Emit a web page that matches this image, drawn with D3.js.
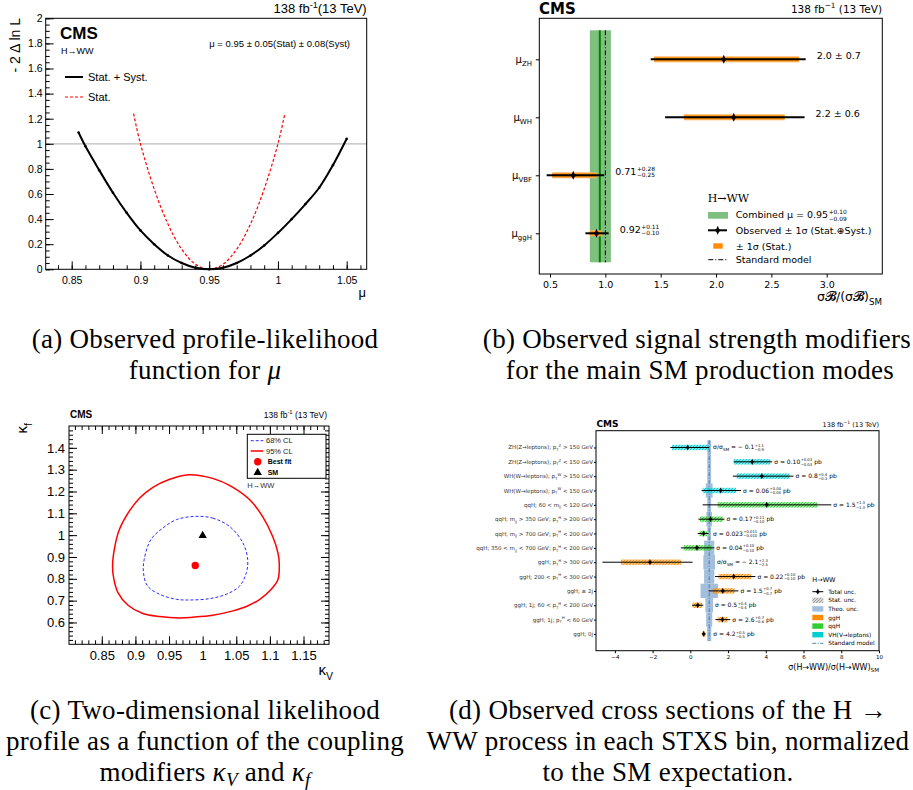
<!DOCTYPE html>
<html lang="en">
<head>
<meta charset="utf-8">
<title>H to WW results</title>
<script src="https://cdn.jsdelivr.net/npm/d3@7"></script>
<style>
body{margin:0;background:#fff;}
text{font-family:"Liberation Sans",Arial,sans-serif;}
.mpl text{font-family:"DejaVu Sans",sans-serif;}
.cap text{font-family:"Liberation Serif",serif;}
</style>
</head>
<body>
<script>
// ---- (a) likelihood scan of mu
var scanMu    = [0.855,0.86,0.87,0.88,0.89,0.90,0.91,0.92,0.93,0.94,0.95,0.96,0.97,0.98,0.99,1.00,1.01,1.02,1.03,1.04,1.05];
var scanTotal = [1.09,0.98,0.79,0.61,0.45,0.31,0.20,0.11,0.05,0.012,0.0,0.012,0.05,0.11,0.19,0.29,0.40,0.52,0.65,0.83,1.04];
var statMu    = [0.895,0.90,0.91,0.92,0.93,0.94,0.95,0.96,0.97,0.98,0.99,1.00,1.005];
var statScan  = [1.24,1.0,0.64,0.36,0.16,0.04,0.0,0.04,0.16,0.36,0.64,1.0,1.24];
var muTicksA  = [0.85,0.9,0.95,1,1.05];
var nllTicksA = [0,0.2,0.4,0.6,0.8,1,1.2,1.4,1.6,1.8,2];

// ---- (b) signal strength per production mode
var modesB   = ["ZH","WH","VBF","ggH"];
var muB      = [2.07,2.16,0.71,0.92];
var statLoB  = [1.44,1.71,0.52,0.86];
var statHiB  = [2.75,2.62,0.92,0.965];
var totLoB   = [1.41,1.54,0.47,0.82];
var totHiB   = [2.81,2.80,0.99,1.03];
var labMainB = ["2.0 ± 0.7","2.2 ± 0.6","0.71","0.92"];
var labUpB   = ["","","+0.28","+0.11"];
var labDnB   = ["","","−0.25","−0.10"];
var combMu = 0.95, combLo = 0.86, combHi = 1.05;
var xTicksB  = [0.5,1.0,1.5,2.0,2.5,3.0];

// ---- (c) kappa_V vs kappa_f contours
var kV95 = [0.979,1.015,1.045,1.070,1.089,1.104,1.112,1.114,1.112,1.102,1.085,1.065,1.045,1.015,0.985,0.966,0.936,0.911,0.889,0.874,0.868,0.866,0.869,0.876,0.889,0.906,0.926,0.951];
var kf95 = [1.277,1.260,1.219,1.162,1.086,0.995,0.919,0.866,0.797,0.752,0.706,0.673,0.653,0.633,0.624,0.621,0.627,0.641,0.679,0.737,0.797,0.858,0.942,1.025,1.101,1.169,1.219,1.256];
var kV68 = [0.990,1.015,1.040,1.060,1.067,1.065,1.055,1.035,1.010,0.980,0.961,0.936,0.918,0.912,0.913,0.923,0.941,0.961];
var kf68 = [1.086,1.078,1.040,0.964,0.888,0.828,0.767,0.729,0.709,0.703,0.706,0.729,0.767,0.828,0.888,0.980,1.033,1.071];
var bestFit = [0.989,0.861];
var smPoint = [1.0,1.0];
var kVTicks = [0.85,0.9,0.95,1,1.05,1.1,1.15];
var kfTicks = [0.6,0.7,0.8,0.9,1,1.1,1.2,1.3,1.4];

// ---- (d) STXS bins
var binLabels = [
  "ZH(Z→leptons);  p_{T}^{Z} > 150 GeV",
  "ZH(Z→leptons);  p_{T}^{Z} < 150 GeV",
  "WH(W→leptons);  p_{T}^{W} > 150 GeV",
  "WH(W→leptons);  p_{T}^{W} < 150 GeV",
  "qqH;  60 < m_{jj} < 120 GeV",
  "qqH;  m_{jj} > 350 GeV;  p_{T}^{H} > 200 GeV",
  "qqH;  m_{jj} > 700 GeV;  p_{T}^{H} < 200 GeV",
  "qqH;  350 < m_{jj} < 700 GeV;  p_{T}^{H} < 200 GeV",
  "ggH;  p_{T}^{H} > 300 GeV",
  "ggH;  200 < p_{T}^{H} < 300 GeV",
  "ggH;  ≥ 2j",
  "ggH;  1j;  60 < p_{T}^{H} < 200 GeV",
  "ggH;  1j;  p_{T}^{H} < 60 GeV",
  "ggH;  0j"];
var binProc  = ["VH","VH","VH","VH","qqH","qqH","qqH","qqH","ggH","ggH","ggH","ggH","ggH","ggH"];
var binMu    = [-0.14,3.28,3.79,1.61,4.05,1.07,0.70,0.35,-2.14,2.30,1.72,0.39,1.70,0.71];
var binTotLo = [-1.06,2.30,2.25,0.60,0.65,0.43,0.39,-0.50,-4.66,1.31,0.97,0.09,1.33,0.66];
var binTotHi = [1.01,4.34,5.47,2.69,7.47,1.81,0.97,1.27,0.12,3.45,2.55,0.69,2.12,0.77];
var binStLo  = [-0.97,2.30,2.46,0.65,1.45,0.51,0.48,-0.35,-3.68,1.50,1.18,0.12,1.45,0.64];
var binStHi  = [0.97,4.24,5.26,2.43,6.73,1.72,0.89,1.13,-0.49,3.22,2.34,0.62,1.98,0.79];
var binTheo  = [0.10,0.10,0.10,0.18,0.10,0.15,0.10,0.27,0.31,0.27,0.46,0.20,0.16,0.11];
var valMain  = ["σ/σ_{SM} = − 0.1","σ = 0.10","σ = 0.8","σ = 0.06","σ = 1.5","σ = 0.17","σ = 0.023","σ = 0.04","σ/σ_{SM} = − 2.1","σ = 0.22","σ = 1.5","σ = 0.5","σ = 2.6","σ = 4.2"];
var valUp    = ["+1.1","+0.03","+0.4","+0.04","+1.3","+0.11","+0.011","+0.10","+2.3","+0.10","+0.7","+0.4","+0.7","+0.5"];
var valDn    = ["−0.9","−0.03","−0.3","−0.04","−1.3","−0.10","−0.010","−0.10","−2.5","−0.10","−0.7","−0.4","−0.6","−0.5"];
var valUnit  = ["","pb","pb","pb","pb","pb","pb","pb","","pb","pb","pb","pb","pb"];
var xTicksD  = [-4,-2,0,2,4,6,8,10];
var procColor = {ggH:"#ff8c00", qqH:"#32cd32", VH:"#00ced1"};

var svg = d3.select("body").append("svg").attr("width",913).attr("height",790);
svg.append("rect").attr("width",913).attr("height",790).attr("fill","#fff");
var defs = svg.append("defs");

// text with _{..} and ^{..}
function tex(t, str, size){
  var parts = str.split(/([_^]\{[^}]*\})/), cur = 0;
  parts.forEach(function(p){
    if(!p) return;
    var off = 0, fs = size, s = p;
    if(p[0]=="_" && p[1]=="{"){ off = size*0.3; fs = size*0.7; s = p.slice(2,-1); }
    else if(p[0]=="^" && p[1]=="{"){ off = -size*0.42; fs = size*0.7; s = p.slice(2,-1); }
    t.append("tspan").attr("dy", off-cur).style("font-size", fs+"px").text(s);
    cur = off;
  });
  return t;
}
// value with stacked +up/-down
function pm(g, x, y, main, up, dn, size, tail){
  var t = tex(g.append("text").attr("x",x).attr("y",y).style("font-size",size+"px"), main, size);
  var w = t.node().getComputedTextLength();
  if(!up) return;
  var a = g.append("text").attr("x",x+w+0.5).attr("y",y-size*0.4).style("font-size",size*0.62+"px").text(up);
  var b = g.append("text").attr("x",x+w+0.5).attr("y",y+size*0.28).style("font-size",size*0.62+"px").text(dn);
  if(tail){
    var w2 = Math.max(a.node().getComputedTextLength(), b.node().getComputedTextLength());
    g.append("text").attr("x",x+w+w2+0.5+size*0.35).attr("y",y).style("font-size",size+"px").text(tail);
  }
}
function clean(sel, fs){
  sel.select(".domain").remove();
  sel.attr("font-size",fs);
  sel.selectAll("line").attr("stroke","#000");
  sel.selectAll("text").attr("fill","#000");
}
function star(rx, ry, r){
  return "M0,"+(-ry)+"L"+r+","+(-r)+"L"+rx+",0L"+r+","+r+"L0,"+ry+"L"+(-r)+","+r+"L"+(-rx)+",0L"+(-r)+","+(-r)+"Z";
}

// ================= (a)
var gA = svg.append("g");
var xA = d3.scaleLinear().domain([0.85,1.05]).range([71.7,346.7]);
var yA = d3.scaleLinear().domain([0,2]).range([269.3,18.3]);
gA.append("line").attr("x1",45.7).attr("x2",366.7).attr("y1",yA(1)).attr("y2",yA(1))
  .attr("stroke","#bbb").attr("stroke-width",1.2);
gA.append("g").attr("transform","translate(45.7,0)")
  .call(d3.axisLeft(yA).tickValues(d3.range(0,2.001,0.05)).tickSize(-4).tickFormat("")).call(clean,10);
gA.append("g").attr("transform","translate(45.7,0)")
  .call(d3.axisLeft(yA).tickValues(nllTicksA).tickSize(-8).tickPadding(3).tickFormat(String)).call(clean,10.5);
gA.append("g").attr("transform","translate(0,269.3)")
  .call(d3.axisBottom(xA).tickValues(d3.range(0.84,1.065,0.01)).tickSize(-4).tickFormat("")).call(clean,10);
gA.append("g").attr("transform","translate(0,269.3)")
  .call(d3.axisBottom(xA).tickValues(muTicksA).tickSize(-8).tickPadding(7).tickFormat(String)).call(clean,10.5);
gA.append("rect").attr("x",45.7).attr("y",18.3).attr("width",321).attr("height",251)
  .attr("fill","none").attr("stroke","#000");
var lineA = d3.line().x(function(d){return xA(d[0]);}).y(function(d){return yA(d[1]);}).curve(d3.curveCatmullRom);
gA.append("path").attr("d", lineA(d3.zip(statMu,statScan))).attr("fill","none")
  .attr("stroke","#ff0000").attr("stroke-width",1.2).attr("stroke-dasharray","3,2");
gA.append("path").attr("d", lineA(d3.zip(scanMu,scanTotal))).attr("fill","none")
  .attr("stroke","#000").attr("stroke-width",2);
gA.selectAll("circle.pt").data(d3.zip(scanMu,scanTotal)).enter().append("circle")
  .attr("cx",function(d){return xA(d[0]);}).attr("cy",function(d){return yA(d[1]);})
  .attr("r",1.3).attr("fill","#000");
gA.append("text").attr("x",366.7).attr("y",13).attr("text-anchor","end").style("font-size","13px")
  .call(function(t){ tex(t,"138 fb^{-1}(13 TeV)",13); });
gA.append("text").attr("x",60).attr("y",39).style("font-size","17px").style("font-weight","bold").text("CMS");
gA.append("text").attr("x",61).attr("y",54).style("font-size","9px").text("H→WW");
gA.append("text").attr("x",350).attr("y",47).attr("text-anchor","end").style("font-size","9.5px")
  .text("μ = 0.95 ± 0.05(Stat) ± 0.08(Syst)");
gA.append("line").attr("x1",65).attr("x2",83).attr("y1",77).attr("y2",77).attr("stroke","#000").attr("stroke-width",2);
gA.append("text").attr("x",88).attr("y",81).style("font-size","11px").text("Stat. + Syst.");
gA.append("line").attr("x1",65).attr("x2",83).attr("y1",97).attr("y2",97).attr("stroke","#ff0000")
  .attr("stroke-width",1.2).attr("stroke-dasharray","3,2");
gA.append("text").attr("x",88).attr("y",101).style("font-size","11px").text("Stat.");
gA.append("text").attr("transform","translate(20,18) rotate(-90)").attr("text-anchor","end")
  .style("font-size","14px").text("- 2 Δ ln L");
gA.append("text").attr("x",366).attr("y",297).attr("text-anchor","end").style("font-size","13px").text("μ");

// ================= (b)
var gB = svg.append("g").attr("class","mpl");
var xB = d3.scaleLinear().domain([0.5,3.0]).range([550,826.7]);
var yB = d3.scalePoint().domain(modesB).range([59.3,233.3]);
var stepB = yB.step();
gB.append("rect").attr("x",xB(combLo)).attr("width",xB(combHi)-xB(combLo))
  .attr("y",yB("ZH")-stepB/2).attr("height",yB("ggH")-yB("ZH")+stepB)
  .attr("fill","#7fbf7f");
gB.append("line").attr("x1",xB(combMu)).attr("x2",xB(combMu)).attr("y1",yB("ZH")-stepB/2).attr("y2",yB("ggH")+stepB/2)
  .attr("stroke","#008000").attr("stroke-width",2);
gB.append("line").attr("x1",xB(1)).attr("x2",xB(1)).attr("y1",yB("ZH")-stepB/2).attr("y2",yB("ggH")+stepB/2)
  .attr("stroke","#000").attr("stroke-width",1).attr("stroke-dasharray","5,2,1,2");
modesB.forEach(function(m,i){
  var y = yB(m);
  gB.append("rect").attr("x",xB(statLoB[i])).attr("width",xB(statHiB[i])-xB(statLoB[i]))
    .attr("y",y-3).attr("height",6).attr("fill","#ffb566");
  gB.append("rect").attr("x",xB(statLoB[i])).attr("width",xB(statHiB[i])-xB(statLoB[i]))
    .attr("y",y-2).attr("height",4).attr("fill","#ff8c00");
  gB.append("line").attr("x1",xB(totLoB[i])).attr("x2",xB(totHiB[i])).attr("y1",y).attr("y2",y)
    .attr("stroke","#000").attr("stroke-width",2);
  gB.append("path").attr("d",star(3.5,4.5,1.4)).attr("transform","translate("+xB(muB[i])+","+y+")").attr("fill","#000");
  pm(gB, xB(totHiB[i])+11, y-0.5, labMainB[i], labUpB[i], labDnB[i], 9.5);
});
gB.append("g").attr("transform","translate(0,274)")
  .call(d3.axisBottom(xB).tickValues(xTicksB).tickSize(3.5).tickPadding(4).tickFormat(d3.format(".1f"))).call(clean,9.5);
gB.append("g").attr("transform","translate(539.3,0)")
  .call(d3.axisLeft(yB).tickSize(3.5).tickFormat("")).call(clean,9.5);
modesB.forEach(function(m){
  gB.append("text").attr("x",532).attr("y",yB(m)+3.5).attr("text-anchor","end").style("font-size","10px")
    .call(function(t){ tex(t,"μ_{"+m+"}",10); });
});
gB.append("rect").attr("x",539.3).attr("y",18.3).attr("width",343).attr("height",255.7)
  .attr("fill","none").attr("stroke","#000");
gB.append("text").attr("x",539).attr("y",13.5).style("font-size","15px").style("font-weight","bold").text("CMS");
gB.append("text").attr("x",882).attr("y",12.5).attr("text-anchor","end").style("font-size","10.5px")
  .call(function(t){ tex(t,"138 fb^{−1} (13 TeV)",10.5); });
gB.append("text").attr("x",882).attr("y",301).attr("text-anchor","end").style("font-size","12.5px")
  .call(function(t){ tex(t,"σ𝓑/(σ𝓑)_{SM}",12.5); });
// legend
gB.append("text").attr("x",707.7).attr("y",202).style("font-size","11px").style("font-family","DejaVu Serif").text("H→WW");
gB.append("rect").attr("x",708).attr("y",212).attr("width",20).attr("height",6.7).attr("fill","#7fbf7f");
pm(gB, 735.7, 218, "Combined μ = 0.95", "+0.10", "−0.09", 9.5);
gB.append("line").attr("x1",708).attr("x2",727).attr("y1",230.3).attr("y2",230.3).attr("stroke","#000").attr("stroke-width",2);
gB.append("path").attr("d",star(3.5,4.5,1.4)).attr("transform","translate(717.7,230.3)").attr("fill","#000");
gB.append("text").attr("x",735.7).attr("y",233.8).style("font-size","9.5px").text("Observed ± 1σ (Stat.⊕Syst.)");
gB.append("rect").attr("x",713.3).attr("y",243.3).attr("width",9.4).attr("height",5.4).attr("fill","#ff8c00");
gB.append("text").attr("x",735.7).attr("y",249.5).style("font-size","9.5px").text("± 1σ (Stat.)");
gB.append("line").attr("x1",708.3).attr("x2",726.7).attr("y1",259.7).attr("y2",259.7).attr("stroke","#000")
  .attr("stroke-dasharray","5,2,1,2");
gB.append("text").attr("x",735.7).attr("y",263.2).style("font-size","9.5px").text("Standard model");

// ================= (c)
var gC = svg.append("g");
var xC = d3.scaleLinear().domain([0.85,1.15]).range([101.8,303.5]);
var yC = d3.scaleLinear().domain([0.5,1.5]).range([644.3,426]);
var x0C = 69, x1C = 329;
function ticksC(){
  gC.append("g").attr("transform","translate("+x0C+",0)")
    .call(d3.axisLeft(yC).tickValues(d3.range(0.52,1.5,0.02)).tickSize(-4).tickFormat("")).call(clean,13);
  gC.append("g").attr("transform","translate("+x1C+",0)")
    .call(d3.axisRight(yC).tickValues(d3.range(0.52,1.5,0.02)).tickSize(-4).tickFormat("")).call(clean,13);
  gC.append("g").attr("transform","translate("+x0C+",0)")
    .call(d3.axisLeft(yC).tickValues(kfTicks).tickSize(-8).tickPadding(4).tickFormat(String)).call(clean,13);
  gC.append("g").attr("transform","translate("+x1C+",0)")
    .call(d3.axisRight(yC).tickValues(kfTicks).tickSize(-8).tickFormat("")).call(clean,13);
  gC.append("g").attr("transform","translate(0,644.3)")
    .call(d3.axisBottom(xC).tickValues(d3.range(0.81,1.19,0.01)).tickSize(-4).tickFormat("")).call(clean,13);
  gC.append("g").attr("transform","translate(0,426)")
    .call(d3.axisTop(xC).tickValues(d3.range(0.81,1.19,0.01)).tickSize(-4).tickFormat("")).call(clean,13);
  gC.append("g").attr("transform","translate(0,644.3)")
    .call(d3.axisBottom(xC).tickValues(kVTicks).tickSize(-8).tickPadding(6).tickFormat(String)).call(clean,13);
  gC.append("g").attr("transform","translate(0,426)")
    .call(d3.axisTop(xC).tickValues(kVTicks).tickSize(-8).tickFormat("")).call(clean,13);
}
ticksC();
gC.append("rect").attr("x",x0C).attr("y",426).attr("width",x1C-x0C).attr("height",218.3)
  .attr("fill","none").attr("stroke","#000");
var lineC = d3.line().x(function(d){return xC(d[0]);}).y(function(d){return yC(d[1]);}).curve(d3.curveCatmullRomClosed);
gC.append("path").attr("d",lineC(d3.zip(kV95,kf95))).attr("fill","none").attr("stroke","#ff0000").attr("stroke-width",1.5);
gC.append("path").attr("d",lineC(d3.zip(kV68,kf68))).attr("fill","none").attr("stroke","#2a2aff")
  .attr("stroke-width",1).attr("stroke-dasharray","3,2");
gC.append("circle").attr("cx",xC(bestFit[0])).attr("cy",yC(bestFit[1])).attr("r",3.7).attr("fill","#ff0000");
gC.append("path").attr("d",d3.symbol(d3.symbolTriangle,30)()).attr("transform","translate("+xC(smPoint[0])+","+(yC(smPoint[1])+0.5)+")").attr("fill","#000");
gC.append("text").attr("x",70).attr("y",418).style("font-size","10px").style("font-weight","bold").text("CMS");
gC.append("text").attr("x",327).attr("y",418).attr("text-anchor","end").style("font-size","8.5px")
  .call(function(t){ tex(t,"138 fb^{-1} (13 TeV)",8.5); });
gC.append("rect").attr("x",247.3).attr("y",434.3).attr("width",78.7).attr("height",44).attr("fill","#fff").attr("stroke","#000");
gC.append("line").attr("x1",250.7).attr("x2",263.3).attr("y1",440.7).attr("y2",440.7).attr("stroke","#2a2aff").attr("stroke-dasharray","3,2");
gC.append("text").attr("x",266).attr("y",443.4).style("font-size","7.5px").attr("fill","#222").text("68% CL");
gC.append("line").attr("x1",250.7).attr("x2",263.3).attr("y1",451).attr("y2",451).attr("stroke","#ff0000").attr("stroke-width",1.5);
gC.append("text").attr("x",266).attr("y",453.7).style("font-size","7.5px").attr("fill","#222").text("95% CL");
gC.append("circle").attr("cx",257.7).attr("cy",461.7).attr("r",3.7).attr("fill","#ff0000");
gC.append("text").attr("x",267.7).attr("y",464.4).style("font-size","7px").style("font-weight","bold").text("Best fit");
gC.append("path").attr("d",d3.symbol(d3.symbolTriangle,30)()).attr("transform","translate(257.7,472.5)").attr("fill","#000");
gC.append("text").attr("x",267.7).attr("y",474.7).style("font-size","7px").style("font-weight","bold").text("SM");
gC.append("text").attr("x",247.3).attr("y",488).style("font-size","7.5px").attr("fill","#333").text("H→WW");
gC.append("text").attr("transform","translate(27,423) rotate(-90)").attr("text-anchor","end").style("font-size","15px")
  .call(function(t){ tex(t,"κ_{f}",15); });
gC.append("text").attr("x",333).attr("y",675).attr("text-anchor","end").style("font-size","15px")
  .call(function(t){ tex(t,"κ_{V}",15); });

// ================= (d)
var gD = svg.append("g").attr("class","mpl");
var xD = d3.scaleLinear().domain([-5,10]).range([596,879]);
var yD = d3.scalePoint().domain(binLabels).range([430.7,650.7]).padding(1.17);
var stepD = yD.step();
function hatch(id, color, bgOp){
  var p = defs.append("pattern").attr("id",id).attr("patternUnits","userSpaceOnUse").attr("width",3).attr("height",3);
  p.append("rect").attr("width",3).attr("height",3).attr("fill",color).attr("fill-opacity",bgOp);
  p.append("path").attr("d","M-0.75,0.75l1.5,-1.5M0,3l3,-3M2.25,3.75l1.5,-1.5").attr("stroke",color).attr("stroke-width",1.1);
}
hatch("h-ggH",procColor.ggH,0.3);
hatch("h-qqH",procColor.qqH,0.3);
hatch("h-VH",procColor.VH,0.3);
hatch("h-gray","#999",0.15);
binLabels.forEach(function(b,i){
  gD.append("rect").attr("x",xD(1-binTheo[i])).attr("width",xD(1+binTheo[i])-xD(1-binTheo[i]))
    .attr("y",yD(b)-stepD/2).attr("height",stepD).attr("fill","#a3bfdc");
});
gD.append("line").attr("x1",xD(1)).attr("x2",xD(1))
  .attr("y1",yD(binLabels[0])-stepD/2).attr("y2",yD(binLabels[13])+stepD/2)
  .attr("stroke","#4682b4").attr("stroke-width",1).attr("stroke-dasharray","4,1.5,1,1.5");
binLabels.forEach(function(b,i){
  var y = yD(b);
  gD.append("rect").attr("x",xD(binStLo[i])).attr("width",xD(binStHi[i])-xD(binStLo[i]))
    .attr("y",y-2.7).attr("height",5.4).attr("fill","url(#h-"+binProc[i]+")");
  gD.append("line").attr("x1",xD(binTotLo[i])).attr("x2",xD(binTotHi[i])).attr("y1",y).attr("y2",y)
    .attr("stroke","#000").attr("stroke-width",1);
  gD.append("path").attr("d",star(2.4,3.1,1)).attr("transform","translate("+xD(binMu[i])+","+y+")").attr("fill","#000");
  var lx = xD(Math.max(binTotHi[i],1+binTheo[i]))+2;
  pm(gD, lx, y+2, valMain[i], valUp[i], valDn[i], 6, valUnit[i]);
  gD.append("text").attr("x",593).attr("y",y+2).attr("text-anchor","end").attr("fill","#333").style("font-size","5.5px")
    .call(function(t){ tex(t,b,5.5); });
});
gD.append("g").attr("transform","translate(596,0)")
  .call(d3.axisLeft(yD).tickSize(2).tickFormat("")).call(clean,5.5);
gD.append("g").attr("transform","translate(0,650.7)")
  .call(d3.axisBottom(xD).tickValues(xTicksD).tickSize(2.5).tickPadding(2).tickFormat(d3.format("d"))).call(clean,5.5);
gD.append("rect").attr("x",596).attr("y",430.7).attr("width",283).attr("height",220)
  .attr("fill","none").attr("stroke","#000");
gD.append("text").attr("x",596.5).attr("y",426.5).style("font-size","9px").style("font-weight","bold").text("CMS");
gD.append("text").attr("x",879).attr("y",426.5).attr("text-anchor","end").style("font-size","6.5px")
  .call(function(t){ tex(t,"138 fb^{−1} (13 TeV)",6.5); });
gD.append("text").attr("x",879).attr("y",669.5).attr("text-anchor","end").style("font-size","8px")
  .call(function(t){ tex(t,"σ(H→WW)/σ(H→WW)_{SM}",8); });
// legend
gD.append("text").attr("x",812.3).attr("y",581.5).style("font-size","6.5px").text("H→WW");
var legD = [
  {t:"Total unc.", k:"tot"}, {t:"Stat. unc.", k:"stat"}, {t:"Theo. unc.", k:"#a3bfdc"},
  {t:"ggH", k:procColor.ggH}, {t:"qqH", k:procColor.qqH}, {t:"VH(V→leptons)", k:procColor.VH},
  {t:"Standard model", k:"sm"}];
legD.forEach(function(e,i){
  var y = 591.7 + i*8.6;
  if(e.k=="tot"){
    gD.append("line").attr("x1",812.3).attr("x2",823.3).attr("y1",y).attr("y2",y).attr("stroke","#000");
    gD.append("path").attr("d",star(2.4,3.1,1)).attr("transform","translate(817.8,"+y+")").attr("fill","#000");
  } else if(e.k=="stat"){
    gD.append("rect").attr("x",812.3).attr("y",y-2.7).attr("width",11).attr("height",5.4).attr("fill","url(#h-gray)");
  } else if(e.k=="sm"){
    gD.append("line").attr("x1",812.3).attr("x2",823.3).attr("y1",y).attr("y2",y).attr("stroke","#4682b4").attr("stroke-dasharray","4,1.5,1,1.5");
  } else {
    gD.append("rect").attr("x",812.3).attr("y",y-2.7).attr("width",11).attr("height",5.4).attr("fill",e.k);
  }
  gD.append("text").attr("x",828.3).attr("y",y+2).style("font-size","5.8px")
    .call(function(t){ tex(t,e.t,5.8); });
});

// ================= captions
var gCap = svg.append("g").attr("class","cap").style("font-size","27px").style("letter-spacing","0.3px");
function cap(x, y, parts){
  var t = gCap.append("text").attr("x",x).attr("y",y).attr("text-anchor","middle");
  parts.forEach(function(p){
    var s = t.append("tspan").text(p[0]);
    if(p[1]=="i") s.style("font-style","italic");
    if(p[1]=="sub") s.style("font-style","italic").style("font-size","19px").attr("dy",5);
    if(p[1]=="back") s.attr("dy",-5);
  });
}
cap(205,348,[["(a) Observed profile-likelihood"]]);
cap(205,379,[["function for "],["μ","i"]]);
cap(697,348,[["(b) Observed signal strength modifiers"]]);
cap(700,379,[["for the main SM production modes"]]);
cap(205,719,[["(c) Two-dimensional likelihood"]]);
cap(205,750,[["profile as a function of the coupling"]]);
cap(205,781,[["modifiers "],["κ","i"],["V","sub"],[" and ","back"],["κ","i"],["f","sub"]]);
cap(668,719,[["(d) Observed cross sections of the H →"]]);
cap(668,750,[["WW process in each STXS bin, normalized"]]);
cap(668,781,[["to the SM expectation."]]);
</script>
</body>
</html>
